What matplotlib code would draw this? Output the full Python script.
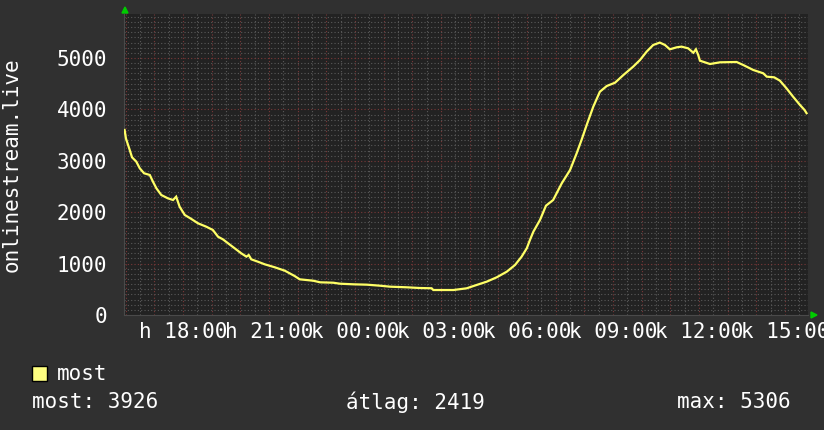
import numpy as np
import matplotlib
matplotlib.use("Agg")
import matplotlib.pyplot as plt
from matplotlib.patches import Polygon, Rectangle
from matplotlib.transforms import IdentityTransform

# ---- data (hours since Monday 00:00, viewers) ----
hours = [15.96, 16.01, 16.14, 16.22, 16.37, 16.49, 16.64, 16.84, 16.95, 17.07,
         17.24, 17.47, 17.65, 17.76, 17.88, 18.06, 18.29, 18.52, 18.81, 19.04,
         19.22, 19.39, 19.57, 19.80, 20.03, 20.21, 20.29, 20.38, 20.61, 20.85,
         21.20, 21.55, 21.89, 22.07, 22.54, 22.78, 23.24, 23.47, 23.94, 24.41,
         24.87, 25.22, 25.80, 26.26, 26.67, 26.73, 27.43, 27.89, 28.24, 28.59,
         28.94, 29.29, 29.58, 29.81, 29.99, 30.10, 30.22, 30.45, 30.66, 30.91,
         31.21, 31.50, 31.73, 31.90, 32.10, 32.31, 32.54, 32.78, 33.07, 33.36,
         33.70, 33.94, 34.17, 34.40, 34.63, 34.81, 34.98, 35.22, 35.39, 35.62,
         35.80, 35.89, 35.97, 36.03, 36.38, 36.73, 37.31, 37.54, 37.89, 38.24,
         38.36, 38.62, 38.82, 39.05, 39.28, 39.52, 39.68, 39.75]
viewers = [3600, 3430, 3210, 3068, 2983, 2854, 2757, 2724, 2594, 2465,
           2335, 2270, 2237, 2302, 2107, 1946, 1868, 1784, 1718, 1654,
           1523, 1472, 1395, 1298, 1200, 1135, 1167, 1083, 1037, 986,
           928, 862, 759, 694, 667, 636, 628, 609, 597, 590,
           570, 551, 539, 525, 520, 486, 486, 519, 584, 648,
           733, 842, 973, 1135, 1298, 1459, 1621, 1848, 2127, 2237,
           2562, 2821, 3146, 3405, 3729, 4053, 4344, 4455, 4520, 4669,
           4831, 4961, 5123, 5253, 5300, 5253, 5169, 5208, 5221, 5188,
           5103, 5169, 5058, 4948, 4883, 4916, 4922, 4864, 4767, 4702,
           4637, 4624, 4559, 4410, 4247, 4086, 3988, 3926]

tick_hours = [18, 21, 24, 27, 30, 33, 36, 39]
tick_labels = ["h 18:00", "h 21:00", "k 00:00", "k 03:00",
               "k 06:00", "k 09:00", "k 12:00", "k 15:00"]
y_ticks = [0, 1000, 2000, 3000, 4000, 5000]
series_name = "most"
stat_names = ["most", "átlag", "max"]
stat_values = [3926, 2419, 5306]
y_title = "onlinestream.live"

# ---- style ----
W, H = 824, 430
outer_bg = "#303030"
canvas_bg = "#222222"
line_col = "#ffff66"
minor_col = "#5a5a5a"
major_col = "#7a3838"
font = "DejaVu Sans Mono"
fs = 15

fig = plt.figure(figsize=(W / 100, H / 100), dpi=100, facecolor=outer_bg)
ax = fig.add_axes([124 / W, (H - 315) / H, 684 / W, 301 / H])
ax.set_facecolor(canvas_bg)
x0, x1 = 15.94, 39.80
ax.set_xlim(x0, x1)
ax.set_ylim(0, 5856)

# grid
for h in np.arange(np.ceil(x0 * 2) / 2, x1, 0.5):
    is_major = abs(h - round(h)) < 1e-6
    ax.axvline(h, color=major_col if is_major else minor_col,
               lw=0.8, ls=(0, (1, 2)), zorder=1)
for v in np.arange(100, 5856, 100):
    is_major = v % 1000 == 0
    ax.axhline(v, color=major_col if is_major else minor_col,
               lw=0.8, ls=(0, (1, 2)), zorder=1)

ax.plot(hours, viewers, color=line_col, lw=1.6, zorder=3,
        solid_joinstyle="miter")

for s in ax.spines.values():
    s.set_visible(False)
ax.spines["bottom"].set_visible(True)
ax.spines["left"].set_visible(True)
ax.spines["bottom"].set_color("#4a4a4a")
ax.spines["left"].set_color("#4a4a4a")

ax.set_yticks(y_ticks)
ax.set_yticklabels([str(v) for v in y_ticks], fontsize=fs, family=font,
                   color="white")
ax.set_xticks(tick_hours)
ax.set_xticklabels(tick_labels, fontsize=fs, family=font, color="white")
ax.tick_params(axis="y", length=0, pad=12)
ax.tick_params(axis="x", length=0, pad=5)

# y title
fig.text(12 / W, 1 - 165 / H, y_title, rotation=90, ha="center", va="center",
         fontsize=fs, family=font, color="white")

# arrows
tr = IdentityTransform()
fig.patches.append(Polygon([[122, H - 13], [128, H - 13], [125, H - 7]],
                           closed=True, color="#00cc00", transform=tr,
                           figure=fig))
fig.patches.append(Polygon([[811, H - 312], [811, H - 318], [817, H - 315]],
                           closed=True, color="#00cc00", transform=tr,
                           figure=fig))

# legend
fig.patches.append(Rectangle((32, H - 381), 15, 15, facecolor="#ffff80",
                             edgecolor="black", lw=1, transform=tr, figure=fig))
fig.text(57 / W, 1 - 374 / H, series_name, ha="left", va="center",
         fontsize=fs, family=font, color="white")
fig.text(32 / W, 1 - 402 / H, f"{stat_names[0]}: {stat_values[0]}",
         ha="left", va="center", fontsize=fs, family=font, color="white")
fig.text(346 / W, 1 - 402 / H, f"{stat_names[1]}: {stat_values[1]}",
         ha="left", va="center", fontsize=fs, family=font, color="white")
fig.text(791 / W, 1 - 402 / H, f"{stat_names[2]}: {stat_values[2]}",
         ha="right", va="center", fontsize=fs, family=font, color="white")

fig.savefig("out.png", dpi=100, facecolor=outer_bg)
